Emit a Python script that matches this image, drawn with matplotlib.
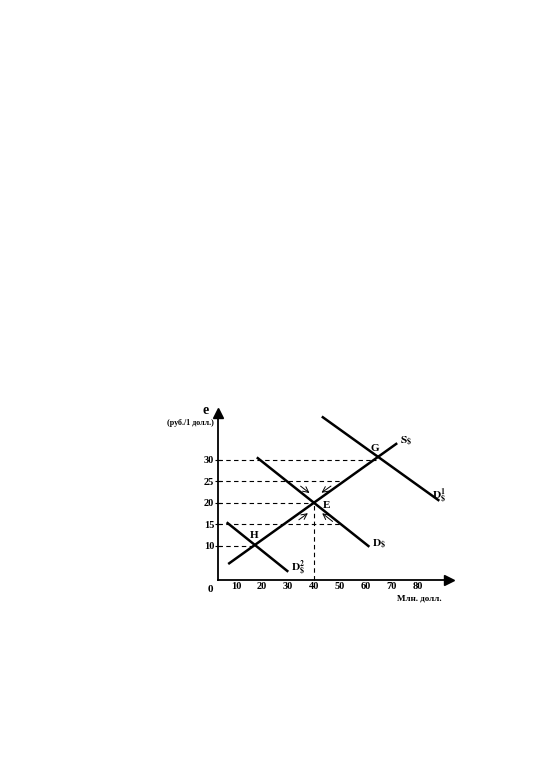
import numpy as np
import matplotlib.pyplot as plt

plt.rcParams['font.family'] = ['Liberation Serif', 'DejaVu Serif']
plt.rcParams['mathtext.fontset'] = 'stix'

# curves: (x start, y start), (x end, y end)
s_x = [7, 72]
s_y = [5.8, 33.9]
d_x = [18, 61.3]
d_y = [30.6, 9.8]
d1_x = [43, 88.2]
d1_y = [40.1, 20.5]
d2_x = [6.4, 30.1]
d2_y = [15.5, 4.0]

# equilibrium points
pt_names = ['H', 'E', 'G']
pt_x = [17.5, 40, 64]
pt_y = [10, 20, 30]

# dashed guides: level, end x
guide_y = [30, 25, 20, 15, 10]
guide_end = [64, 51, 40, 50, 17.5]

x_ticks = [10, 20, 30, 40, 50, 60, 70, 80]
y_ticks = [10, 15, 20, 25, 30]

fig = plt.figure(figsize=(5.54, 7.65), dpi=100)
ax = fig.add_axes([0.3556, 0.1739, 0.4928, 0.3373])
ax.set_xlim(-5, 100)
ax.set_ylim(-10, 50)

for sp in ['top', 'right']:
    ax.spines[sp].set_visible(False)
ax.spines['left'].set_position(('data', 3))
ax.spines['bottom'].set_position(('data', 2))
ax.spines['left'].set_bounds(2, 41)
ax.spines['bottom'].set_bounds(3, 92)
ax.spines['left'].set_linewidth(1.3)
ax.spines['bottom'].set_linewidth(1.3)
ax.plot(3, 41, marker='^', color='black', markersize=7, clip_on=False)
ax.plot(92, 2, marker='>', color='black', markersize=7, clip_on=False)

ax.set_xticks(x_ticks)
ax.set_yticks(y_ticks)
ax.tick_params(axis='x', length=0, pad=1.5, labelsize=7.5)
ax.tick_params(axis='y', length=4, direction='inout', pad=0.5, labelsize=7.5)
for lab in ax.get_xticklabels() + ax.get_yticklabels():
    lab.set_fontweight('bold')

# dashed guides
for yv, xe in zip(guide_y, guide_end):
    ax.plot([3, xe], [yv, yv], color='black', lw=0.8, dashes=(4, 3))
ax.plot([40, 40], [2, 20], color='black', lw=0.8, dashes=(4, 3))

# curves
for xs, ys in [(s_x, s_y), (d_x, d_y), (d1_x, d1_y), (d2_x, d2_y)]:
    ax.plot(xs, ys, color='black', lw=1.8, solid_capstyle='butt')

# small arrows toward E
arrows = [((34, 24.3), (39.1, 21.9)), ((47.4, 24.3), (42, 22)),
          ((33.3, 15.7), (38.5, 18)), ((48, 15.3), (42.3, 18))]
for start, end in arrows:
    ax.annotate('', xy=end, xytext=start,
                arrowprops=dict(arrowstyle='->', lw=0.7, color='black'))

# labels
ax.text(63.5, 31.5, 'G', fontsize=8, fontweight='bold', ha='center', va='bottom')
ax.text(43.5, 19.5, 'E', fontsize=8, fontweight='bold', ha='left', va='center')
ax.text(17, 11.5, 'H', fontsize=8, fontweight='bold', ha='center', va='bottom')
ax.text(73, 34.3, r'$\mathbf{S_{\$}}$', fontsize=8, ha='left', va='center')
ax.text(62.2, 10.5, r'$\mathbf{D_{\$}}$', fontsize=8, ha='left', va='center')
ax.text(85.3, 21.5, r'$\mathbf{D^{1}_{\$}}$', fontsize=8, ha='left', va='center')
ax.text(31, 4.7, r'$\mathbf{D^{2}_{\$}}$', fontsize=8, ha='left', va='center')

ax.text(-0.3, 41.6, 'e', fontsize=10, fontweight='bold', ha='right', va='center')
ax.text(-7.7, 38.7, '(руб./1 долл.)', fontsize=5.8, fontweight='bold',
        ha='center', va='center', clip_on=False)
ax.text(80.4, -2.3, 'Млн. долл.', fontsize=6.5, fontweight='bold',
        ha='center', va='center')
ax.text(0.3, -0.2, '0', fontsize=8, fontweight='bold', ha='center', va='center')

fig.savefig('out.png', dpi=100)
